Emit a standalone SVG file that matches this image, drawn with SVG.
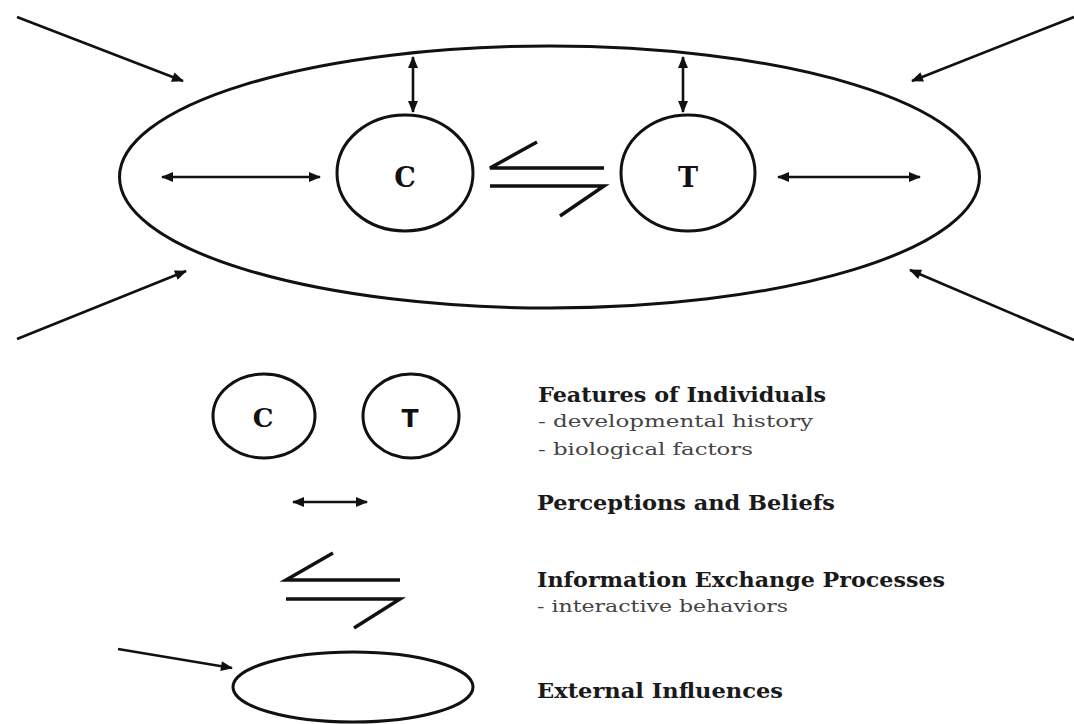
<svg xmlns="http://www.w3.org/2000/svg" width="1074" height="724" viewBox="0 0 1074 724">
<style>
.sh{fill:none;stroke:#111;stroke-width:3}
.ln{fill:none;stroke:#111;stroke-width:2.6;stroke-linecap:butt}
.ex{fill:none;stroke:#111;stroke-width:3.5}
.lbl{font-family:"DejaVu Serif","Liberation Serif",serif;font-weight:bold;fill:#111;text-anchor:middle}
.h{font-family:"DejaVu Serif","Liberation Serif",serif;font-weight:bold;font-size:21px;fill:#1a1a1a}
.s{font-family:"DejaVu Serif","Liberation Serif",serif;font-size:17px;fill:#444}
</style>
<defs>
<marker id="ah" viewBox="0 0 12 10" refX="11" refY="5" markerWidth="13" markerHeight="10" markerUnits="userSpaceOnUse" orient="auto-start-reverse">
<path d="M0,0 L12,5 L0,10 Z" fill="#111"/>
</marker>
</defs>
<rect width="1074" height="724" fill="#fff"/>
<g id="context">
<ellipse class="sh" cx="549.5" cy="177" rx="430" ry="131"/>
</g>
<g id="node-c">
<ellipse class="sh" cx="405" cy="173" rx="68" ry="58"/>
<text class="lbl" x="405" y="187" font-size="27">C</text>
</g>
<g id="node-t">
<ellipse class="sh" cx="688" cy="173" rx="67" ry="58"/>
<text class="lbl" x="688" y="187" font-size="27">T</text>
</g>
<g id="connectors">
<line class="ln" x1="17" y1="17" x2="183" y2="81" marker-end="url(#ah)"/>
<line class="ln" x1="17" y1="339" x2="186" y2="271" marker-end="url(#ah)"/>
<line class="ln" x1="1074" y1="17" x2="912" y2="81" marker-end="url(#ah)"/>
<line class="ln" x1="1074" y1="340" x2="910" y2="270" marker-end="url(#ah)"/>
<line class="ln" x1="162" y1="177" x2="320" y2="177" marker-start="url(#ah)" marker-end="url(#ah)"/>
<line class="ln" x1="778" y1="177" x2="920" y2="177" marker-start="url(#ah)" marker-end="url(#ah)"/>
<line class="ln" x1="413" y1="57" x2="413" y2="112" marker-start="url(#ah)" marker-end="url(#ah)"/>
<line class="ln" x1="683" y1="57" x2="683" y2="112" marker-start="url(#ah)" marker-end="url(#ah)"/>
<polyline class="ex" points="537,142 490,168 604,168"/>
<polyline class="ex" points="490,186 604,186 560,216"/>
</g>
<g id="legend-individuals">
<ellipse class="sh" cx="264" cy="416" rx="51" ry="42"/>
<text class="lbl" x="263" y="427" font-size="26">C</text>
<ellipse class="sh" cx="411" cy="416" rx="48" ry="42"/>
<text class="lbl" x="410" y="427" font-size="25" style="font-family:'DejaVu Sans',sans-serif">T</text>
<text class="h" x="538" y="402" textLength="288" lengthAdjust="spacingAndGlyphs">Features of Individuals</text>
<text class="s" x="538" y="427" textLength="275" lengthAdjust="spacingAndGlyphs">-  developmental history</text>
<text class="s" x="538" y="455" textLength="215" lengthAdjust="spacingAndGlyphs">-  biological factors</text>
</g>
<g id="legend-perceptions">
<line class="ln" x1="293" y1="502" x2="367" y2="502" marker-start="url(#ah)" marker-end="url(#ah)"/>
<text class="h" x="537" y="510" textLength="298" lengthAdjust="spacingAndGlyphs">Perceptions and Beliefs</text>
</g>
<g id="legend-exchange">
<polyline class="ex" points="333,553 286,580 400,580"/>
<polyline class="ex" points="286,599 400,599 354,628"/>
<text class="h" x="537" y="587" textLength="408" lengthAdjust="spacingAndGlyphs">Information Exchange Processes</text>
<text class="s" x="537" y="612" textLength="251" lengthAdjust="spacingAndGlyphs">- interactive behaviors</text>
</g>
<g id="legend-external">
<ellipse class="sh" cx="353" cy="687" rx="120" ry="35"/>
<line class="ln" x1="118" y1="649" x2="232" y2="668" marker-end="url(#ah)"/>
<text class="h" x="537" y="698" textLength="246" lengthAdjust="spacingAndGlyphs">External Influences</text>
</g>
</svg>
